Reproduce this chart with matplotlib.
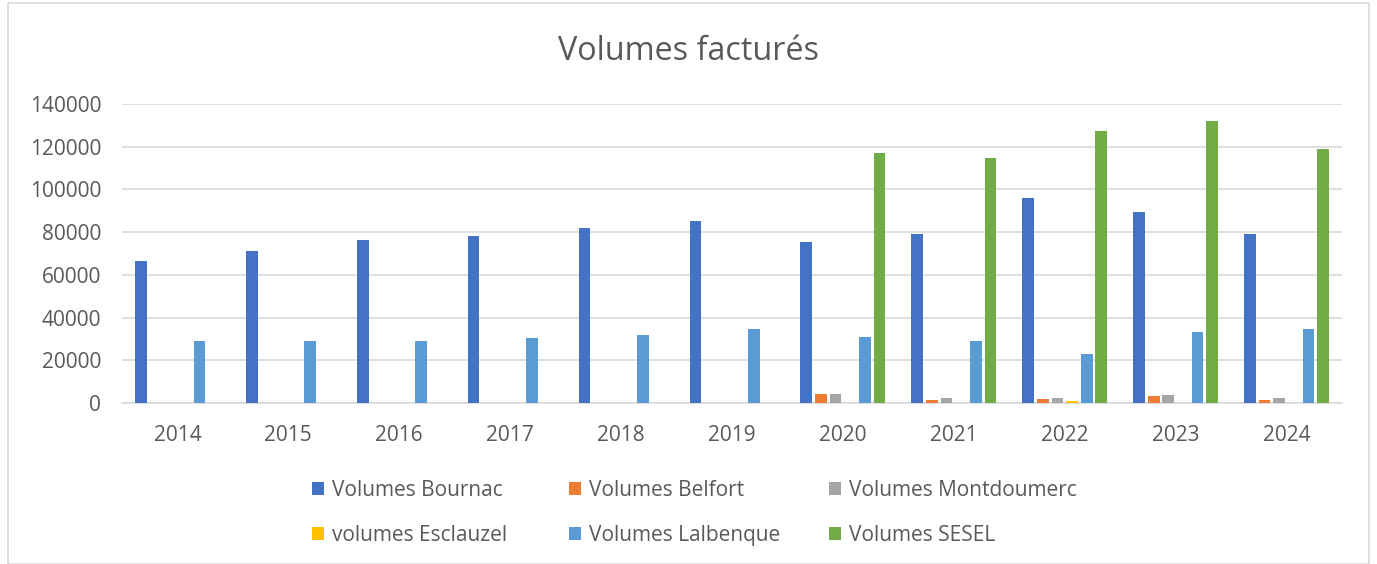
import matplotlib.pyplot as plt
import numpy as np
from matplotlib.patches import Rectangle

# data
years = ["2014", "2015", "2016", "2017", "2018", "2019", "2020", "2021", "2022", "2023", "2024"]
bournac = [66700, 71400, 76100, 78000, 82100, 85400, 75600, 79300, 96100, 89600, 78900]
belfort = [0, 0, 0, 0, 0, 0, 4300, 1300, 1700, 3100, 1300]
montdoumerc = [0, 0, 0, 0, 0, 0, 4300, 2500, 2500, 3800, 2500]
esclauzel = [0, 0, 0, 0, 0, 0, 0, 0, 1100, 0, 0]
lalbenque = [28900, 29000, 29000, 30300, 31700, 34500, 30800, 28900, 22900, 33100, 34500]
sesel = [0, 0, 0, 0, 0, 0, 117100, 114800, 127400, 132100, 119000]

series = [
    ("Volumes Bournac", bournac, "#4472C4"),
    ("Volumes Belfort", belfort, "#ED7D31"),
    ("Volumes Montdoumerc", montdoumerc, "#A5A5A5"),
    ("volumes Esclauzel", esclauzel, "#FFC000"),
    ("Volumes Lalbenque", lalbenque, "#5B9BD5"),
    ("Volumes SESEL", sesel, "#70AD47"),
]

plt.rcParams["font.family"] = ["Open Sans", "DejaVu Sans"]
txt = "#595959"

fig = plt.figure(figsize=(13.77, 5.64), dpi=100)
ax = fig.add_axes([122 / 1377, 1 - 403 / 564, 1220 / 1377, 299 / 564])

x = np.arange(len(years))
slot = 0.132
w = 0.106
handles = []
for i, (name, vals, col) in enumerate(series):
    b = ax.bar(x + (i - 2.5) * slot, vals, w, color=col, label=name, zorder=3)
    handles.append(b)

ax.set_xlim(-0.5, len(years) - 0.5)
ax.set_ylim(0, 140000)
ax.set_yticks(range(0, 140001, 20000))
ax.set_xticks(x)
ax.set_xticklabels(years)
ax.tick_params(axis="both", length=0, labelsize=15, colors=txt)
ax.tick_params(axis="x", pad=16)
ax.tick_params(axis="y", pad=15)
ax.grid(axis="y", color="#d9d9d9", lw=1.2, zorder=0)
for s in ["top", "right", "left"]:
    ax.spines[s].set_visible(False)
ax.spines["bottom"].set_color("#d9d9d9")
ax.spines["bottom"].set_linewidth(1.2)

fig.text(0.5, 1 - 52 / 564, "Volumes facturés", ha="center", va="center",
         fontsize=23.3, color=txt)

# legend: three fixed columns, filled row by row like the original
col_x = [312, 569, 829]
for c in range(3):
    idx = [c, c + 3]
    fig.legend([handles[i] for i in idx], [series[i][0] for i in idx],
               loc="center left", bbox_to_anchor=(col_x[c] / 1377, 1 - 513 / 564),
               frameon=False, fontsize=15, labelcolor=txt, handlelength=0.58,
               handleheight=0.58, handletextpad=0.4, labelspacing=1.14,
               borderpad=0, borderaxespad=0)

fig.patches.append(Rectangle((8 / 1377, 0), 1 - 16 / 1377, 1 - 3 / 564, transform=fig.transFigure,
                             fill=False, edgecolor="#d9d9d9", lw=1.2))

fig.savefig("out.png", dpi=100)
